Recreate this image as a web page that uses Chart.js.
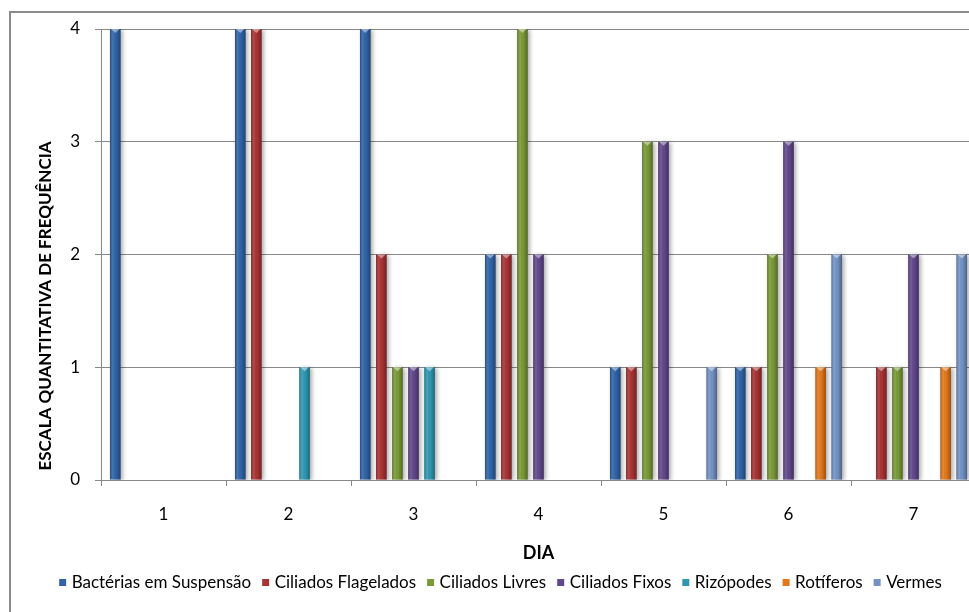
<!DOCTYPE html>
<html lang="pt">
<head>
<meta charset="utf-8">
<title>Escala quantitativa de frequência por dia</title>
<script src="https://cdn.jsdelivr.net/npm/chart.js@4/dist/chart.umd.min.js"></script>
<style>
  html, body { margin: 0; padding: 0; overflow: hidden; background: #fff; }
  #wrap { position: absolute; left: 0; top: 0; width: 1000px; height: 612px; }
</style>
</head>
<body>
<div id="wrap"><canvas id="chart" width="1000" height="612"></canvas></div>
<script>
// Categories (days) and frequency scores per group of organisms
const dias = ['1', '2', '3', '4', '5', '6', '7'];
const bacterias  = [4, 4, 4, 2, 1, 1, 0];
const flagelados = [0, 4, 2, 2, 1, 1, 1];
const livres     = [0, 0, 1, 4, 3, 2, 1];
const fixos      = [0, 0, 1, 2, 3, 3, 2];
const rizopodes  = [0, 1, 1, 0, 0, 0, 0];
const rotiferos  = [0, 0, 0, 0, 0, 1, 1];
const vermes     = [0, 0, 0, 0, 1, 2, 2];
const yTicks = [0, 1, 2, 3, 4];

const seriesNames = ['Bactérias em Suspensão', 'Ciliados Flagelados', 'Ciliados Livres',
                     'Ciliados Fixos', 'Rizópodes', 'Rotíferos', 'Vermes'];
const seriesValues = [bacterias, flagelados, livres, fixos, rizopodes, rotiferos, vermes];
const seriesColors = ['#2F64A8', '#A93333', '#7A9A37', '#62488C', '#2E98B2', '#E2781C', '#7393C6'];

const FONT = 'Lato, "Open Sans", Arial, sans-serif';
const GRAY = '#888888';

// White page background and the frame around the chart
const frame = {
  id: 'frame',
  beforeDraw(chart) {
    const ctx = chart.ctx;
    ctx.save();
    ctx.fillStyle = '#fff';
    ctx.fillRect(0, 0, chart.width, chart.height);
    ctx.strokeStyle = '#8a8a8a';
    ctx.lineWidth = 2;
    ctx.strokeRect(10, 12, chart.width + 40, chart.height + 40);
    ctx.restore();
  }
};

// Soft drop shadow behind the bars, then rounded shading over each bar
const barShadow = {
  id: 'barShadow',
  beforeDatasetsDraw(chart) {
    const ctx = chart.ctx;
    ctx.save();
    ctx.shadowColor = 'rgba(0,0,0,0.35)';
    ctx.shadowBlur = 4;
    ctx.shadowOffsetX = 2;
    ctx.shadowOffsetY = 1;
  },
  afterDatasetsDraw(chart) {
    const ctx = chart.ctx;
    ctx.restore();
    ctx.save();
    chart.data.datasets.forEach((ds, i) => {
      const meta = chart.getDatasetMeta(i);
      if (meta.hidden) return;
      meta.data.forEach(el => {
        const p = el.getProps(['x', 'y', 'base', 'width'], true);
        const h = p.base - p.y;
        if (h < 1) return;
        const left = p.x - p.width / 2;
        const g = ctx.createLinearGradient(left, 0, left + p.width, 0);
        g.addColorStop(0, 'rgba(0,0,0,0.28)');
        g.addColorStop(0.3, 'rgba(255,255,255,0.10)');
        g.addColorStop(0.55, 'rgba(0,0,0,0.0)');
        g.addColorStop(1, 'rgba(0,0,0,0.32)');
        ctx.fillStyle = g;
        ctx.fillRect(left, p.y, p.width, h);
        // light bevel at the top of the bar
        ctx.beginPath();
        ctx.moveTo(left + 1, p.y);
        ctx.lineTo(left + p.width - 1, p.y);
        ctx.lineTo(p.x, p.y + 4);
        ctx.closePath();
        ctx.fillStyle = 'rgba(255,255,255,0.45)';
        ctx.fill();
      });
    });
    ctx.restore();
  }
};

// Axis titles
const axisTitles = {
  id: 'axisTitles',
  afterDraw(chart) {
    const ctx = chart.ctx;
    const area = chart.chartArea;
    ctx.save();
    ctx.fillStyle = '#000';
    ctx.textAlign = 'center';
    ctx.textBaseline = 'middle';
    ctx.font = 'bold 18px ' + FONT;
    ctx.fillText('DIA', (area.left + area.right) / 2, 553);
    ctx.translate(46, 306);
    ctx.rotate(-Math.PI / 2);
    ctx.font = 'bold 17px ' + FONT;
    ctx.fillText('ESCALA QUANTITATIVA DE FREQUÊNCIA', 0, 0);
    ctx.restore();
  }
};

new Chart(document.getElementById('chart'), {
  type: 'bar',
  data: {
    labels: dias,
    datasets: seriesNames.map((name, i) => ({
      label: name,
      data: seriesValues[i],
      backgroundColor: seriesColors[i],
      borderWidth: 0,
      categoryPercentage: 0.9,
      barPercentage: 0.66
    }))
  },
  options: {
    responsive: false,
    animation: false,
    devicePixelRatio: 1,
    layout: { padding: { left: 9, right: 5, top: 29, bottom: 11 } },
    scales: {
      x: {
        offset: true,
        grid: { display: true, drawOnChartArea: false, drawTicks: true, tickLength: 6, color: GRAY, offset: true },
        border: { display: true, color: GRAY, width: 1 },
        ticks: { color: '#000', font: { family: FONT, size: 17 }, padding: 18, maxRotation: 0 },
        afterFit(s) { s.height = 80; }
      },
      y: {
        min: 0,
        max: 4,
        afterBuildTicks(s) { s.ticks = yTicks.map(v => ({ value: v })); },
        grid: { color: GRAY, tickLength: 6, drawTicks: true },
        border: { display: true, color: GRAY, width: 1 },
        ticks: { color: '#000', font: { family: FONT, size: 17 }, padding: 15 },
        afterFit(s) { s.width = 92; }
      },
      y2: {
        position: 'right',
        display: true,
        grid: { display: false },
        border: { display: false },
        ticks: { display: false },
        afterFit(s) { s.width = 19; }
      }
    },
    plugins: {
      legend: {
        position: 'bottom',
        labels: {
          usePointStyle: true,
          pointStyle: 'rect',
          boxWidth: 1,
          boxHeight: 7,
          padding: 14,
          color: '#000',
          font: { family: FONT, size: 17 }
        }
      },
      tooltip: { enabled: false }
    }
  },
  plugins: [frame, barShadow, axisTitles]
});
</script>
</body>
</html>
